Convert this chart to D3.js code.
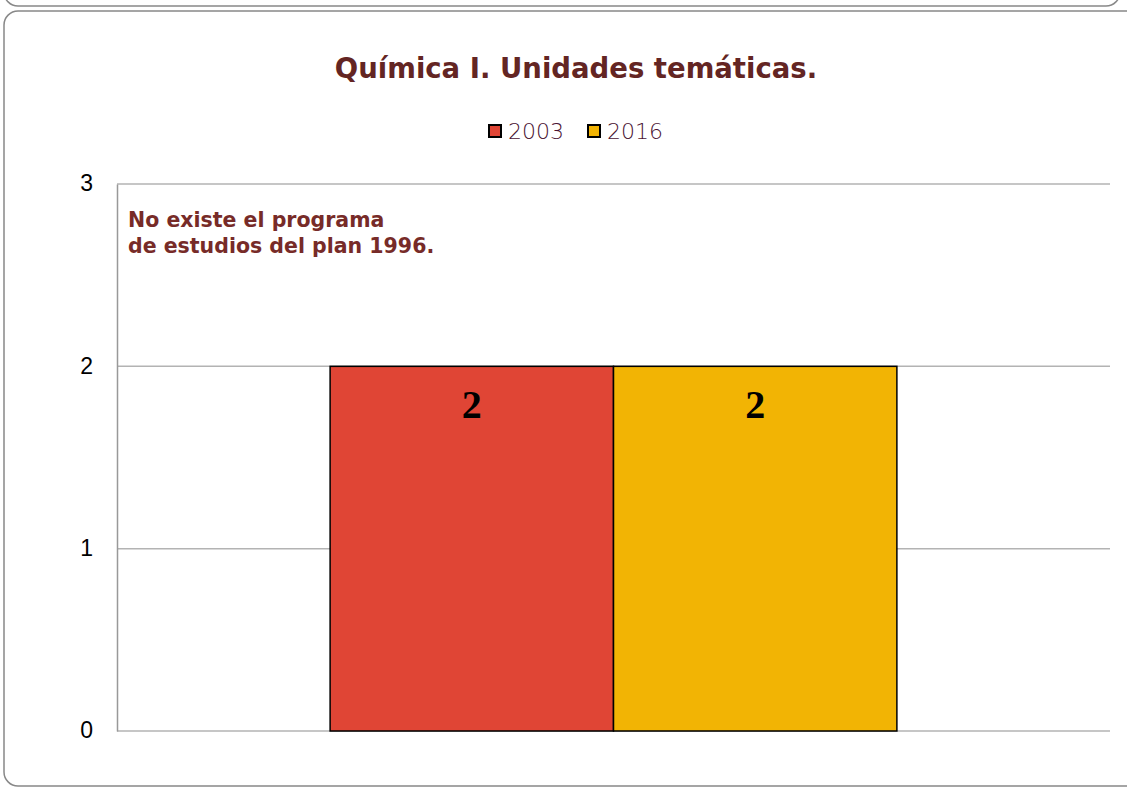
<!DOCTYPE html>
<meta charset="utf-8">
<html>
<head>
<title>Química I. Unidades temáticas</title>
<script src="https://cdn.jsdelivr.net/npm/d3@7"></script>
<style>
html, body { margin: 0; background: #fff; overflow: hidden; }
</style>
</head>
<body>
<script>
// data
var categories = ["Unidades"];
var series = ["2003", "2016"];
var values2003 = [2];
var values2016 = [2];
var yTicks = [0, 1, 2, 3];
var colors = ["#e04535", "#f2b404"];

var W = 1127, H = 792;
var svg = d3.select("body").append("svg").attr("width", W).attr("height", H);

// outer frames (slide-like rounded boxes)
svg.append("rect").attr("x", 4).attr("y", -40).attr("width", 1116).attr("height", 46)
    .attr("rx", 14).attr("fill", "none").attr("stroke", "#888").attr("stroke-width", 1.5);
svg.append("rect").attr("x", 4).attr("y", 11).attr("width", 1160).attr("height", 775)
    .attr("rx", 14).attr("fill", "#fff").attr("stroke", "#888").attr("stroke-width", 1.5);

var pLeft = 117, pRight = 1110, pTop = 184, pBottom = 731;

var y = d3.scaleLinear().domain([0, 3]).range([pBottom, pTop]);
var x = d3.scaleBand().domain(categories).range([pLeft, pRight]).paddingInner(0).paddingOuter(0.376);
var xs = d3.scaleBand().domain(series).range([0, x.bandwidth()]).padding(0);

// gridlines
svg.append("g").selectAll("line").data(yTicks).enter().append("line")
    .attr("x1", pLeft).attr("x2", pRight)
    .attr("y1", function (d) { return y(d); }).attr("y2", function (d) { return y(d); })
    .attr("stroke", "#b3b3b3").attr("stroke-width", 1.5);

// y axis
var yAxis = svg.append("g").attr("transform", "translate(" + pLeft + ",0)")
    .call(d3.axisLeft(y).tickValues(yTicks).tickFormat(d3.format("d")).tickSize(0).tickPadding(24));
yAxis.select(".domain").attr("stroke", "#999").attr("stroke-width", 1.5);
yAxis.selectAll(".tick text").attr("dy", "0.3em")
    .style("font-family", "'Liberation Sans', Arial, sans-serif").style("font-size", "23px")
    .attr("fill", "#000");

// bars
var rows = categories.map(function (c, i) {
    return { cat: c, vals: [values2003[i], values2016[i]] };
});
var grp = svg.append("g").selectAll("g").data(rows).enter().append("g")
    .attr("transform", function (d) { return "translate(" + x(d.cat) + ",0)"; });

grp.selectAll("rect").data(function (d) {
    return d.vals.map(function (v, j) { return { s: series[j], v: v, c: colors[j] }; });
}).enter().append("rect")
    .attr("x", function (d) { return xs(d.s); })
    .attr("y", function (d) { return y(d.v); })
    .attr("width", xs.bandwidth())
    .attr("height", function (d) { return y(0) - y(d.v); })
    .attr("fill", function (d) { return d.c; })
    .attr("stroke", "#000").attr("stroke-width", 1.5);

grp.selectAll("text.lbl").data(function (d) {
    return d.vals.map(function (v, j) { return { s: series[j], v: v }; });
}).enter().append("text").attr("class", "lbl")
    .attr("x", function (d) { return xs(d.s) + xs.bandwidth() / 2; })
    .attr("y", function (d) { return y(d.v) + 52; })
    .attr("text-anchor", "middle")
    .style("font-family", "'Liberation Serif', serif")
    .style("font-weight", "bold").style("font-size", "40px").attr("fill", "#000")
    .text(function (d) { return d.v; });

// title
svg.append("text").attr("x", 576).attr("y", 78).attr("text-anchor", "middle")
    .style("font-family", "'DejaVu Sans', sans-serif").style("font-weight", "bold")
    .style("font-size", "27.5px").attr("fill", "#632523")
    .text("Química I. Unidades temáticas.");

// legend
var leg = svg.append("g").attr("transform", "translate(488,124)");
var legX = [0, 99];
series.forEach(function (s, i) {
    leg.append("rect").attr("x", legX[i] + 1).attr("y", 1).attr("width", 12).attr("height", 12)
        .attr("fill", colors[i]).attr("stroke", "#000").attr("stroke-width", 2);
    leg.append("text").attr("x", legX[i] + 20).attr("y", 15)
        .style("font-family", "'DejaVu Sans', sans-serif").style("font-weight", "200")
        .style("font-size", "22px")
        .attr("fill", "#4a1232").text(s);
});

// note
var note = svg.append("text").attr("x", 128).attr("y", 227)
    .style("font-family", "'DejaVu Sans', sans-serif").style("font-weight", "bold")
    .style("font-size", "20.5px").attr("fill", "#772b28");
note.append("tspan").attr("x", 128).text("No existe el programa");
note.append("tspan").attr("x", 128).attr("dy", 26).text("de estudios del plan 1996.");
</script>
</body>
</html>
